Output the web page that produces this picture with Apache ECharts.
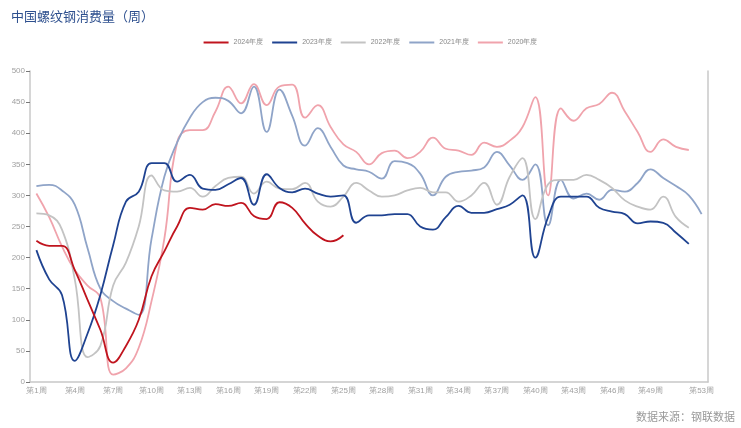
<!DOCTYPE html>
<html>
<head>
<meta charset="utf-8">
<script src="https://cdn.jsdelivr.net/npm/echarts@6/dist/echarts.min.js"></script>
<style>
  html, body { margin: 0; padding: 0; background: #fff; }
  #chart { width: 741px; height: 428px; }
</style>
</head>
<body>
<div id="chart"></div>
<script>
// 周次
var weeks = [];
for (var i = 1; i <= 53; i++) weeks.push('第' + i + '周');

var legendNames = ['2024年度', '2023年度', '2022年度', '2021年度', '2020年度'];
var colors = ['#c0141e', '#1f4391', '#c3c3c3', '#8fa4c8', '#f0a3ac'];

var y2024 = [227, 219, 219, 180, 132, 84, 31, 58, 100, 170, 210, 250, 280, 277, 286, 283, 288, 267, 262, 289,
  280, 255, 235, 226, 236];
var y2023 = [212, 165, 140, 34, 78, 140, 220, 290, 306, 352, 352, 322, 333, 311, 309, 318, 328, 285, 334, 312,
  305, 311, 303, 298, 300, 256, 268, 268, 270, 270, 250, 245, 265, 283, 272, 272, 278, 285, 300, 200,
  265, 298, 298, 298, 280, 274, 270, 255, 258, 256, 240, 222];
var y2022 = [271, 268, 245, 165, 40, 58, 155, 192, 250, 332, 308, 306, 312, 298, 315, 328, 330, 303, 322, 311,
  310, 320, 290, 282, 298, 320, 308, 298, 300, 308, 312, 305, 305, 290, 300, 320, 285, 330, 360, 262,
  318, 325, 325, 333, 325, 312, 292, 282, 277, 298, 265, 248];
var y2021 = [315, 317, 308, 285, 215, 150, 130, 118, 108, 230, 330, 385, 425, 450, 457, 452, 432, 475, 402, 470,
  428, 380, 408, 378, 348, 342, 338, 327, 355, 352, 335, 300, 330, 338, 340, 345, 370, 348, 325, 350,
  252, 325, 295, 303, 293, 309, 306, 320, 342, 328, 315, 300, 270];
var y2020 = [303, 265, 218, 180, 155, 135, 12, 22, 55, 130, 230, 385, 405, 405, 435, 475, 448, 479, 445, 475,
  478, 425, 445, 410, 382, 370, 350, 368, 372, 360, 370, 393, 375, 372, 365, 385, 378, 388, 410, 458,
  300, 440, 420, 440, 447, 465, 435, 402, 370, 390, 378, 373];

var seriesData = [y2024, y2023, y2022, y2021, y2020];

var chart = echarts.init(document.getElementById('chart'));

var series = legendNames.map(function (name, i) {
  return {
    name: name,
    type: 'line',
    data: seriesData[i],
    smooth: 0.45,
    symbol: 'none',
    z: 10 - i,
    lineStyle: { width: 1.8, color: colors[i] },
    itemStyle: { color: colors[i] }
  };
});

var option = {
  animation: false,
  backgroundColor: '#fff',
  title: {
    text: '中国螺纹钢消费量（周）',
    left: 6,
    top: 5,
    textStyle: { fontFamily: 'Noto Sans CJK SC', fontSize: 13, fontWeight: 'normal', color: '#2d4f8e' }
  },
  legend: {
    data: legendNames,
    top: 34,
    left: 'center',
    icon: 'rect',
    itemWidth: 25,
    itemHeight: 2,
    itemGap: 9,
    textStyle: { fontSize: 7, color: '#888' }
  },
  grid: { left: 30, right: 33, top: 71, bottom: 46 },
  xAxis: {
    type: 'category',
    data: weeks,
    boundaryGap: true,
    axisLine: { lineStyle: { color: '#c8c8c8', width: 1.5 } },
    axisTick: {
      lineStyle: { color: '#777' },
      length: 4,
      interval: function (idx) { return idx % 3 === 0 || idx === 52; }
    },
    axisLabel: {
      fontSize: 8,
      color: '#a0a0a0',
      margin: 5,
      interval: function (idx) { return (idx % 3 === 0 && idx !== 51) || idx === 52; }
    }
  },
  yAxis: [{
    type: 'value',
    min: 0,
    max: 500,
    interval: 50,
    splitLine: { show: false },
    axisLine: { show: true, lineStyle: { color: '#c8c8c8', width: 1.5 } },
    axisTick: { show: true, length: 4, lineStyle: { color: '#777' } },
    axisLabel: { fontSize: 8, color: '#a0a0a0', margin: 5 }
  }, {
    type: 'value',
    position: 'right',
    min: 0,
    max: 500,
    interval: 50,
    splitLine: { show: false },
    axisLine: { show: true, lineStyle: { color: '#c8c8c8', width: 1.5 } },
    axisTick: { show: false },
    axisLabel: { show: false }
  }],
  graphic: [{
    type: 'text',
    right: 6,
    bottom: 6,
    style: { text: '数据来源：钢联数据', fontFamily: 'Noto Sans CJK SC', fontSize: 11, fill: '#999' }
  }],
  series: series
};

chart.setOption(option);
</script>
</body>
</html>
